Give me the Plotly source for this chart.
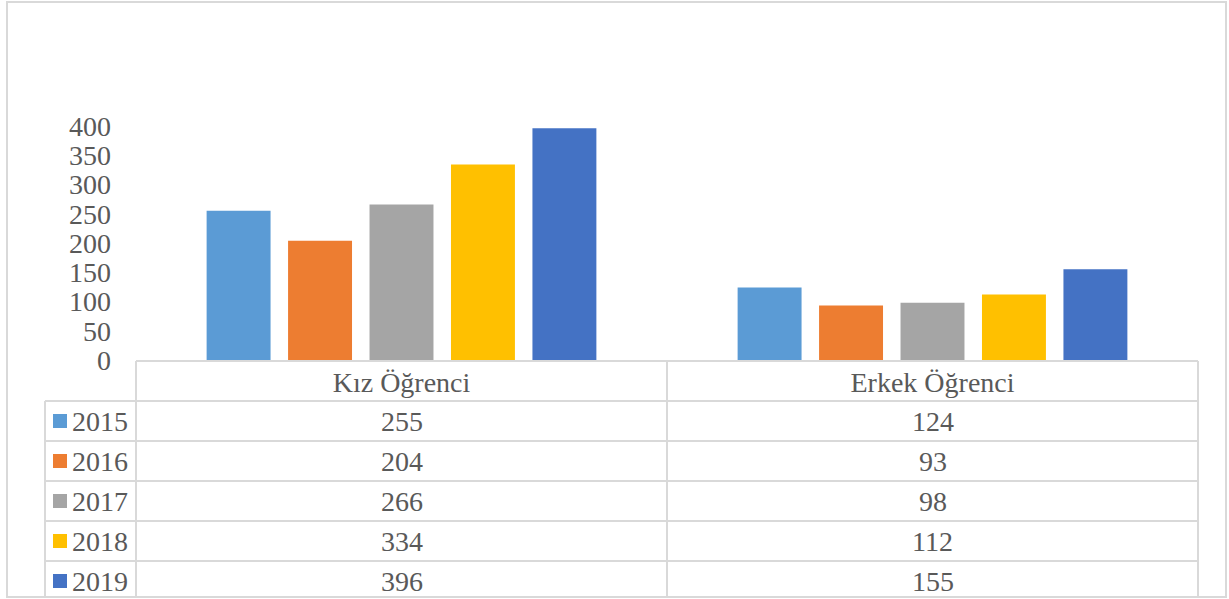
import plotly.graph_objects as go

# --- Data ---
categories = ["Kız Öğrenci", "Erkek Öğrenci"]
years = ["2015", "2016", "2017", "2018", "2019"]
vals_2015 = [255, 124]
vals_2016 = [204, 93]
vals_2017 = [266, 98]
vals_2018 = [334, 112]
vals_2019 = [396, 155]
series = [vals_2015, vals_2016, vals_2017, vals_2018, vals_2019]
colors = ["#5B9BD5", "#ED7D31", "#A5A5A5", "#FFC000", "#4472C4"]
y_ticks = [0, 50, 100, 150, 200, 250, 300, 350, 400]

# --- Layout geometry (pixels) ---
W, H = 1229, 599
L, R, T, B = 136, 1198, 126, 360  # plot area
FONT = "Liberation Serif, Times New Roman, serif"
TXT = "#595959"
GRID = "#D9D9D9"
FS = 28


def px(x):
    return (x - L) / (R - L)


def py(y):
    return (B - y) / (B - T)


fig = go.Figure()
for year, vals, col in zip(years, series, colors):
    fig.add_trace(go.Bar(x=categories, y=vals, name=year, marker_color=col,
                         marker_line_width=0, showlegend=False, hoverinfo="x+y+name"))

shapes = []
line = dict(color=GRID, width=2)
# outer chart border
shapes.append(dict(type="rect", xref="paper", yref="paper",
                   x0=px(7), x1=px(1226), y0=py(597), y1=py(2), line=line))
# data table grid
row_top = 361
row_h = 40
shapes.append(dict(type="line", xref="paper", yref="paper",
                   x0=px(L), x1=px(R), y0=py(row_top), y1=py(row_top), line=line))
for i in range(len(years)):
    y = row_top + row_h * (i + 1)
    shapes.append(dict(type="line", xref="paper", yref="paper",
                       x0=px(45), x1=px(R), y0=py(y), y1=py(y), line=line))
for xv in [L, (L + R) / 2, R]:
    shapes.append(dict(type="line", xref="paper", yref="paper",
                       x0=px(xv), x1=px(xv), y0=py(row_top), y1=py(597), line=line))
shapes.append(dict(type="line", xref="paper", yref="paper",
                   x0=px(45), x1=px(45), y0=py(row_top + row_h), y1=py(597), line=line))

annotations = []
for i, (year, vals, col) in enumerate(zip(years, series, colors)):
    yc = row_top + row_h * (i + 1) + row_h / 2
    # legend key
    shapes.append(dict(type="rect", xref="paper", yref="paper",
                       x0=px(53), x1=px(67), y0=py(yc + 7), y1=py(yc - 7),
                       fillcolor=col, line=dict(width=0)))
    annotations.append(dict(xref="paper", yref="paper", x=px(70), y=py(yc),
                            text=year, showarrow=False, xanchor="left", yanchor="middle",
                            font=dict(family=FONT, size=FS, color=TXT)))
    for cat, v in zip(categories, vals):
        annotations.append(dict(xref="x", yref="paper", x=cat, y=py(yc),
                                text=str(v), showarrow=False, xanchor="center", yanchor="middle",
                                font=dict(family=FONT, size=FS, color=TXT)))

fig.update_layout(
    width=W, height=H,
    margin=dict(l=L, r=W - R, t=T, b=H - B),
    paper_bgcolor="white", plot_bgcolor="white",
    barmode="group", bargap=0.233, bargroupgap=0.215,
    font=dict(family=FONT, size=FS, color=TXT),
    shapes=shapes, annotations=annotations,
    xaxis=dict(showgrid=False, showline=False, zeroline=False, ticks="",
               tickfont=dict(family=FONT, size=FS, color=TXT), ticklabelstandoff=3),
    yaxis=dict(range=[0, 400], tickvals=y_ticks, showgrid=False, showline=False,
               zeroline=False, ticks="", ticklabelstandoff=24,
               tickfont=dict(family=FONT, size=FS, color=TXT)),
)

fig.write_html("out.html", config={"displayModeBar": False},
               post_script="document.body.style.margin='0';")
